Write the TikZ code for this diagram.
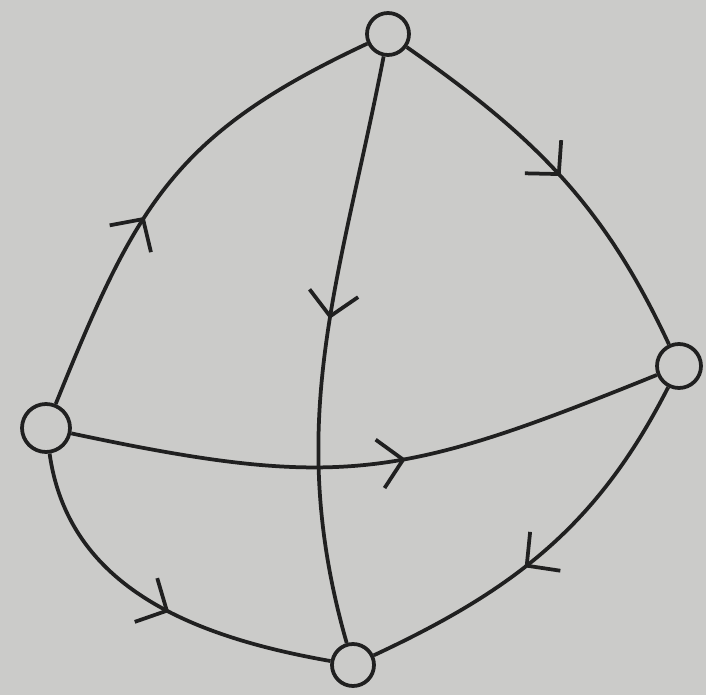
\documentclass[tikz,border=0pt]{standalone}
\usetikzlibrary{arrows.meta,decorations.markings}
\definecolor{paper}{RGB}{203,203,201}
\definecolor{ink}{RGB}{32,32,32}
\begin{document}
\begin{tikzpicture}[x=0.03cm,y=0.03cm,
  vtx/.style={circle,draw=ink,line width=3.2pt,inner sep=0pt,minimum size=#1*0.03cm},
  edge/.style={draw=ink,line width=3.2pt},
  midarr/.style={postaction={decorate,decoration={markings,
     mark=at position #1 with {\arrow{Straight Barb[length=20pt,width=42pt,line width=3.2pt]}}}}}]
\fill[paper] (0,0) rectangle (706,695);
\useasboundingbox (0,0) rectangle (706,695);
\node[vtx=42] (top) at (388,661) {};
\node[vtx=44] (right) at (679,329) {};
\node[vtx=48] (left) at (46,267) {};
\node[vtx=42] (bottom) at (353,30) {};
\draw[edge,midarr=0.42] (left) to[out=68,in=205,looseness=1.15] (top);
\draw[edge,midarr=0.5] (top) to[out=-35,in=115] (right);
\draw[edge,midarr=0.45] (top) to[out=-101,in=106] (bottom);
\draw[edge,midarr=0.56] (left) to[out=-12,in=202,looseness=1.2] (right);
\draw[edge,midarr=0.55] (left) to[out=-82,in=170] (bottom);
\draw[edge,midarr=0.57] (right) to[out=243,in=25] (bottom);
\end{tikzpicture}
\end{document}
